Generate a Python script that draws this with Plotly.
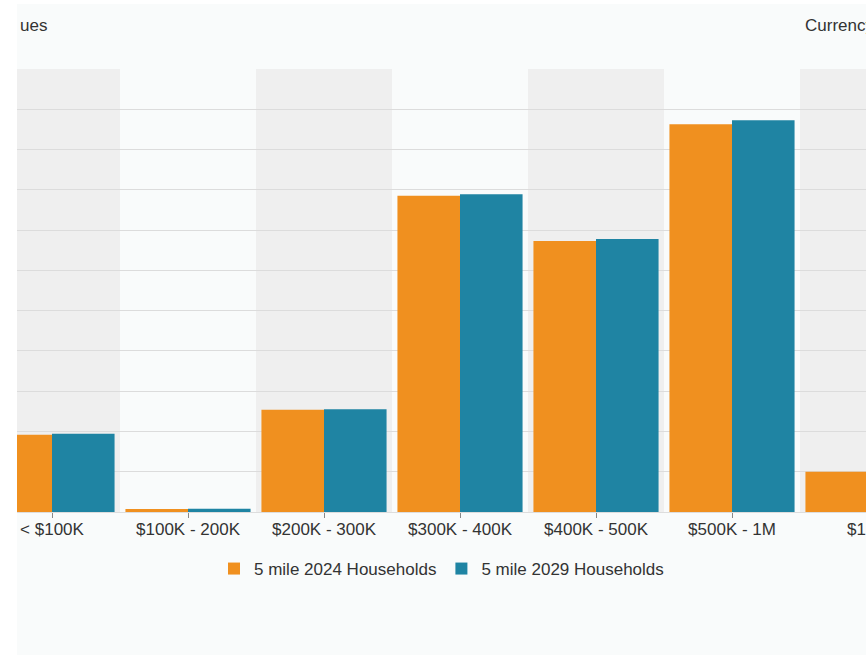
import plotly.graph_objects as go

categories = ["< $100K", "$100K - 200K", "$200K - 300K", "$300K - 400K",
              "$400K - 500K", "$500K - 1M", "$1M+"]
households_2024 = [960, 38, 1270, 3925, 3365, 4815, 500]
households_2029 = [970, 40, 1275, 3945, 3390, 4865, 520]
series_names = ["5 mile 2024 Households", "5 mile 2029 Households"]
y_ticks = list(range(0, 5501, 500))

W, H = 866, 656
L, R, T, B = 17, 0, 69, 144
pw, ph = W - L - R, H - T - B

def px_x(p):
    return (p - L) / pw

def px_y(p):
    return (H - B - p) / ph

ORANGE = "#f0901f"
BLUE = "#1f84a3"
FONT = "Liberation Sans, Arial, sans-serif"
FS = 17

fig = go.Figure()
fig.add_trace(go.Bar(x=categories, y=households_2024, name=series_names[0],
                     marker=dict(color=ORANGE, line=dict(width=0))))
fig.add_trace(go.Bar(x=categories, y=households_2029, name=series_names[1],
                     marker=dict(color=BLUE, line=dict(width=0))))

shapes = [dict(type="rect", xref="paper", yref="paper",
               x0=px_x(17), x1=px_x(880), y0=px_y(655), y1=px_y(4),
               fillcolor="#f9fbfb", line=dict(width=0), layer="below")]
for i in range(len(categories)):
    if i % 2 == 0:
        shapes.append(dict(type="rect", xref="x", yref="paper",
                           x0=i - 0.5, x1=i + 0.5, y0=0, y1=1,
                           fillcolor="#efefef", line=dict(width=0), layer="below"))

annotations = [
    dict(text="ues", xref="paper", yref="paper", x=px_x(18), y=px_y(26),
         xanchor="left", yanchor="middle", showarrow=False,
         font=dict(size=FS, color="#333333", family=FONT)),
    dict(text="Currency", xref="paper", yref="paper", x=px_x(803), y=px_y(26),
         xanchor="left", yanchor="middle", showarrow=False,
         font=dict(size=FS, color="#333333", family=FONT)),
    dict(text=categories[6], xref="paper", yref="paper", x=px_x(868), y=px_y(529),
         xanchor="center", yanchor="middle", showarrow=False,
         font=dict(size=FS, color="#333333", family=FONT)),
]

fig.update_layout(
    width=W, height=H,
    margin=dict(l=L, r=R, t=T, b=B, pad=0),
    paper_bgcolor="#ffffff",
    plot_bgcolor="rgba(0,0,0,0)",
    barmode="group", bargap=0.08, bargroupgap=0.0,
    font=dict(family=FONT, size=FS, color="#333333"),
    shapes=shapes, annotations=annotations,
    showlegend=True,
    legend=dict(orientation="h", x=0.5, xanchor="center", y=px_y(569), yanchor="middle",
                font=dict(size=FS, color="#333333", family=FONT),
                bgcolor="rgba(0,0,0,0)", traceorder="normal"),
    xaxis=dict(range=[-35 / 136, -35 / 136 + pw / 136], showgrid=False,
               ticks="outside", ticklen=5, tickcolor="#888888", tickwidth=1,
               ticklabelstandoff=-3,
               showline=True, linecolor="#dddddd", linewidth=1,
               tickfont=dict(size=FS, color="#333333", family=FONT), fixedrange=True),
    yaxis=dict(range=[0, 5500], tickvals=y_ticks, showticklabels=False,
               showgrid=True, gridcolor="#dcdcdc", gridwidth=1,
               zeroline=False, showline=False, fixedrange=True),
    hovermode=False,
)

page_js = ("document.body.style.margin='0';"
           "document.body.style.padding='0';"
           "document.body.style.overflow='hidden';")

fig.write_html("out.html", post_script=page_js,
               config={"displayModeBar": False, "staticPlot": True})
